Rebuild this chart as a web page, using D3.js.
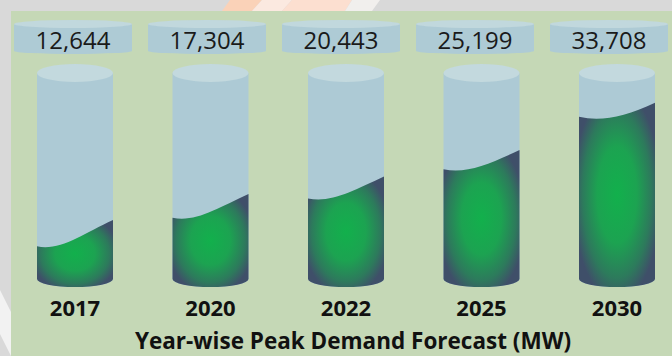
<!DOCTYPE html>
<html>
<head>
<meta charset="utf-8">
<script src="https://cdn.jsdelivr.net/npm/d3@7"></script>
<style>
  html, body { margin: 0; padding: 0; background: #d9d9d9; }
  svg { display: block; }
</style>
</head>
<body>
<div id="chart"></div>
<script>
// ---- data ----
const years = ["2017", "2020", "2022", "2025", "2030"];
const peakDemand = [12644, 17304, 20443, 25199, 33708];
const chartTitle = "Year-wise Peak Demand Forecast (MW)";

const W = 672, H = 356;
const svg = d3.select("#chart").append("svg").attr("width", W).attr("height", H);

// background + faint watermark
svg.append("rect").attr("width", W).attr("height", H).attr("fill", "#d9d9d9");
const wm = svg.append("g");
wm.append("path").attr("d", "M230,0 L262,0 L252,11 L222,11 Z").attr("fill", "#fad2b8");
wm.append("path").attr("d", "M262,0 L292,0 L282,11 L252,11 Z").attr("fill", "#fbe9e0");
wm.append("path").attr("d", "M292,0 L352,0 L345,11 L282,11 Z").attr("fill", "#fcdfd0");
wm.append("path").attr("d", "M352,0 L380,0 L372,11 L345,11 Z").attr("fill", "#f1efed");
wm.append("path").attr("d", "M0,290 L11,312 L11,356 L0,334 Z").attr("fill", "#f2f2f2");

// panel
svg.append("rect").attr("x", 11).attr("y", 11).attr("width", W - 11).attr("height", H - 11)
  .attr("fill", "#c5d8b6");

// gradient
const defs = svg.append("defs");
const rg = defs.append("radialGradient").attr("id", "fillGrad")
  .attr("cx", "50%").attr("cy", "50%").attr("r", "58%");
rg.append("stop").attr("offset", "0%").attr("stop-color", "#12b04c");
rg.append("stop").attr("offset", "45%").attr("stop-color", "#1ca351");
rg.append("stop").attr("offset", "78%").attr("stop-color", "#2d7a5c");
rg.append("stop").attr("offset", "100%").attr("stop-color", "#3f4f69");

const blur = defs.append("filter").attr("id", "soft").attr("x", "-10%").attr("y", "-30%")
  .attr("width", "120%").attr("height", "160%");
blur.append("feGaussianBlur").attr("stdDeviation", 0.6);

// scales
const xCyl = d3.scalePoint().domain(years).range([75, 617]);
const xBox = d3.scalePoint().domain(years).range([73, 609]);
const topY = 73, botY = 279;
const y = d3.scaleLinear().domain([4800, 40000]).range([botY, topY]);
const rx = 38, ryTop = 9, ryBot = 8;

const data = years.map((yr, i) => ({ year: yr, value: peakDemand[i] }));

// value boxes (short cylinders)
const boxW = 118, boxTop = 20, boxBot = 54, boxRy = 4;
const boxes = svg.append("g").selectAll("g").data(data).join("g");
boxes.append("path")
  .attr("d", d => {
    const x0 = xBox(d.year) - boxW / 2, x1 = xBox(d.year) + boxW / 2;
    return `M${x0},${boxTop + boxRy} L${x0},${boxBot - 3} A${boxW / 2},3 0 0 0 ${x1},${boxBot - 3} L${x1},${boxTop + boxRy} Z`;
  })
  .attr("fill", "#aecbd5");
boxes.append("ellipse")
  .attr("cx", d => xBox(d.year)).attr("cy", boxTop + boxRy)
  .attr("rx", boxW / 2).attr("ry", boxRy)
  .attr("fill", "#c1d8dd").attr("filter", "url(#soft)");
boxes.append("text")
  .attr("x", d => xBox(d.year)).attr("y", 49)
  .attr("text-anchor", "middle")
  .attr("font-family", "'Open Sans', sans-serif").attr("font-size", 24)
  .attr("fill", "#1a1a1a")
  .text(d => d3.format(",")(d.value));

// cylinders
const cyl = svg.append("g").selectAll("g").data(data).join("g");
cyl.append("path")
  .attr("d", d => {
    const x0 = xCyl(d.year) - rx, x1 = xCyl(d.year) + rx;
    return `M${x0},${topY} L${x0},${botY} A${rx},${ryBot} 0 0 0 ${x1},${botY} L${x1},${topY} Z`;
  })
  .attr("fill", "#adcad5");
cyl.append("ellipse")
  .attr("cx", d => xCyl(d.year)).attr("cy", topY)
  .attr("rx", rx).attr("ry", ryTop)
  .attr("fill", "#c3d9de").attr("filter", "url(#soft)");
cyl.append("path")
  .attr("d", d => {
    const x0 = xCyl(d.year) - rx, x1 = xCyl(d.year) + rx, w = x1 - x0;
    const mid = y(d.value);
    const amp = 31 - 0.1 * (botY - mid);
    const yL = mid + amp / 2, yR = mid - amp / 2;
    return `M${x0},${yL} C${x0 + 0.3 * w},${yL + 5} ${x0 + 0.6 * w},${yR + 14} ${x1},${yR}` +
      ` L${x1},${botY} A${rx},${ryBot} 0 0 1 ${x0},${botY} Z`;
  })
  .attr("fill", "url(#fillGrad)");

// year labels
svg.append("g").selectAll("text").data(data).join("text")
  .attr("x", d => xCyl(d.year)).attr("y", 316)
  .attr("text-anchor", "middle")
  .attr("font-family", "'Open Sans', sans-serif").attr("font-weight", 700).attr("font-size", 22)
  .attr("fill", "#111")
  .text(d => d.year);

// title
svg.append("text")
  .attr("x", 353).attr("y", 349)
  .attr("text-anchor", "middle")
  .attr("font-family", "'Open Sans', sans-serif").attr("font-weight", 700).attr("font-size", 22.5)
  .attr("fill", "#111")
  .text(chartTitle);
</script>
</body>
</html>
